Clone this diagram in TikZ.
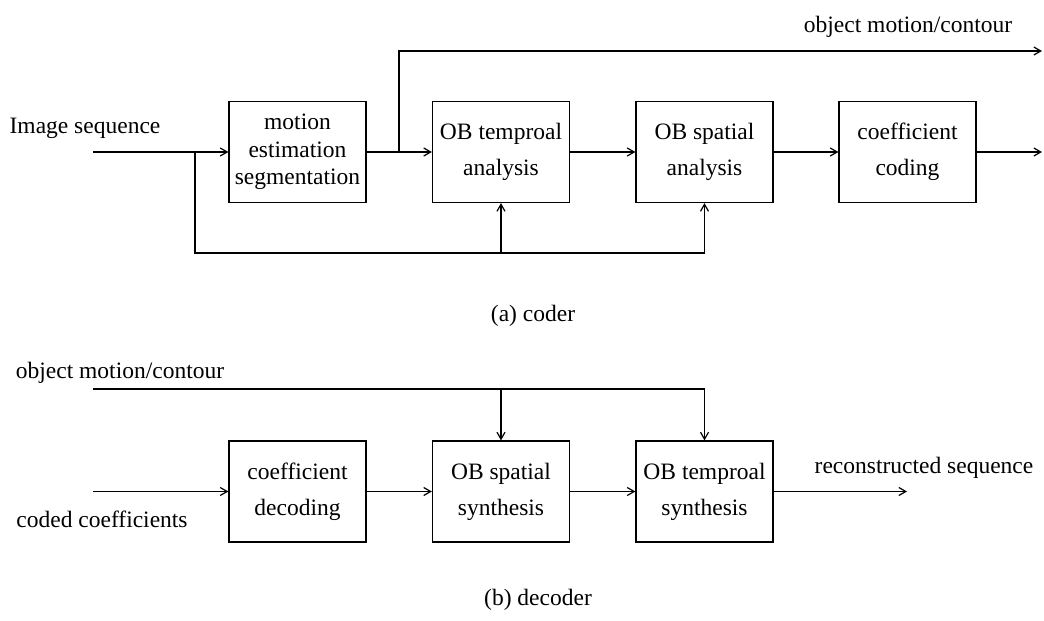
\documentclass[tikz,border=0pt]{standalone}
\usepackage{fontspec}
\setmainfont{Liberation Serif}
\usetikzlibrary{arrows.meta}
\begin{document}
\begin{tikzpicture}[x=1pt,y=-1pt,
  line width=1.2pt,
  arr/.style={-{Straight Barb[length=7pt,width=8pt,line width=1.2pt]}},
  lbl/.style={inner sep=0pt,font=\fontsize{23.5}{28}\selectfont},
  blk/.style={draw,minimum width=137pt,minimum height=101pt,inner sep=2pt,align=center,
              font=\fontsize{23.5}{36}\selectfont},
  blkthree/.style={blk,font=\fontsize{23.5}{27.5}\selectfont}]
\useasboundingbox (0,0) rectangle (1044,621);
% ---------- coder ----------
\node[lbl] (imgseq) at (85,128) {Image sequence};
\coordinate (in1) at (93,152);
\coordinate (j1) at (195,152);
\node[blkthree] (c1) at (297.5,152) {motion\\estimation\\segmentation};
\node[blk] (c2) at (501,152) {OB temproal\\analysis};
\node[blk] (c3) at (704.5,152) {OB spatial\\analysis};
\node[blk] (c4) at (907.5,152) {coefficient\\coding};
\coordinate (br) at (399,152);
\coordinate (top) at (399,51);
\coordinate (topend) at (1042,51);
\coordinate (out1) at (1042,152);
\coordinate (fbL) at (195,253);
\coordinate (fbM) at (501,253);
\coordinate (fbR) at (704.5,253);
\node[lbl] (omc1) at (908,27) {object motion/contour};
\draw (in1) -- (j1);
\draw[arr] (j1) -- (c1.west);
\draw (c1.east) -- (br);
\draw[arr] (br) -- (c2.west);
\draw[arr] (br) -- (top) -- (topend);
\draw[arr] (c2.east) -- (c3.west);
\draw[arr] (c3.east) -- (c4.west);
\draw[arr] (c4.east) -- (out1);
\draw[arr] (j1) -- (fbL) -- (fbR) -- (c3.south);
\draw[arr] (fbM) -- (c2.south);
\node[lbl] (capa) at (533,316) {(a) coder};
% ---------- decoder ----------
\node[lbl] (omc2) at (120,373) {object motion/contour};
\node[lbl] (cc) at (102,519) {coded coefficients};
\coordinate (tl) at (93,389);
\coordinate (tm) at (501,389);
\coordinate (tr) at (704.5,389);
\coordinate (in2) at (93,491.5);
\node[blk] (d1) at (297.5,491.5) {coefficient\\decoding};
\node[blk] (d2) at (501,491.5) {OB spatial\\synthesis};
\node[blk] (d3) at (704.5,491.5) {OB temproal\\synthesis};
\coordinate (out2) at (907,491.5);
\node[lbl] (rs) at (924,468) {reconstructed sequence};
\draw[arr] (tl) -- (tr) -- (d3.north);
\draw[arr] (tm) -- (d2.north);
\draw[arr] (in2) -- (d1.west);
\draw[arr] (d1.east) -- (d2.west);
\draw[arr] (d2.east) -- (d3.west);
\draw[arr] (d3.east) -- (out2);
\node[lbl] (capb) at (538,600) {(b) decoder};
\end{tikzpicture}
\end{document}
